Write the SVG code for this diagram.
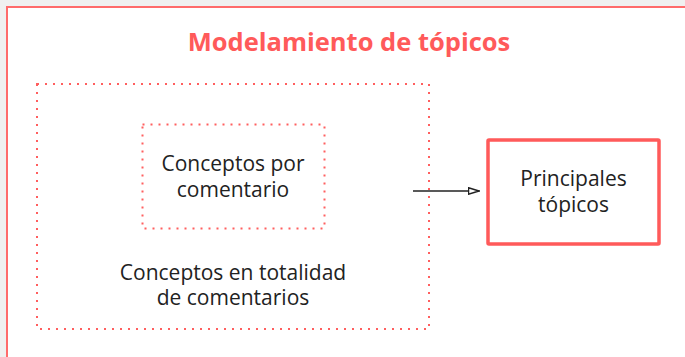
<svg xmlns="http://www.w3.org/2000/svg" width="685" height="357" viewBox="0 0 685 357">
<style>
.dot{fill:none;stroke:#ff5f5f;stroke-width:2;stroke-dasharray:2 6}
.t{font-family:"Open Sans","Noto Sans",sans-serif;font-size:21px;fill:#222;text-anchor:middle}
</style>
<defs>
<marker id="ah" viewBox="0 0 12 8" refX="12" refY="4" markerWidth="12" markerHeight="8" markerUnits="userSpaceOnUse" orient="auto">
<path d="M1,0.8 L11.5,4 L1,7.2 Z" fill="#fff" stroke="#222" stroke-width="1.5"/>
</marker>
</defs>
<rect x="0" y="0" width="685" height="357" fill="#f0f0f0"/>
<rect id="frame" x="7" y="7" width="690" height="360" fill="#fff" stroke="#ff6b6b" stroke-width="2"/>
<text id="title" x="349" y="51" font-family="'Open Sans','Noto Sans',sans-serif" font-size="25.5" font-weight="bold" fill="#ff5a5a" text-anchor="middle">Modelamiento de tópicos</text>
<g id="total">
<rect class="dot" x="37" y="84" width="392" height="245"/>
<text class="t" x="233" y="280">Conceptos en totalidad</text>
<text class="t" x="233" y="305">de comentarios</text>
</g>
<g id="por">
<rect class="dot" x="142.5" y="124.5" width="182" height="104"/>
<text class="t" x="233" y="171">Conceptos por</text>
<text class="t" x="233" y="196.5">comentario</text>
</g>
<g id="principales">
<rect x="488" y="140" width="171" height="104" fill="#fff" stroke="#ff5a5a" stroke-width="3.5" rx="1"/>
<text class="t" x="573.5" y="186">Principales</text>
<text class="t" x="573.5" y="211.5">tópicos</text>
</g>
<g id="connectors">
<line x1="413" y1="191" x2="479.5" y2="191" stroke="#222" stroke-width="1.5" marker-end="url(#ah)"/>
</g>
</svg>
